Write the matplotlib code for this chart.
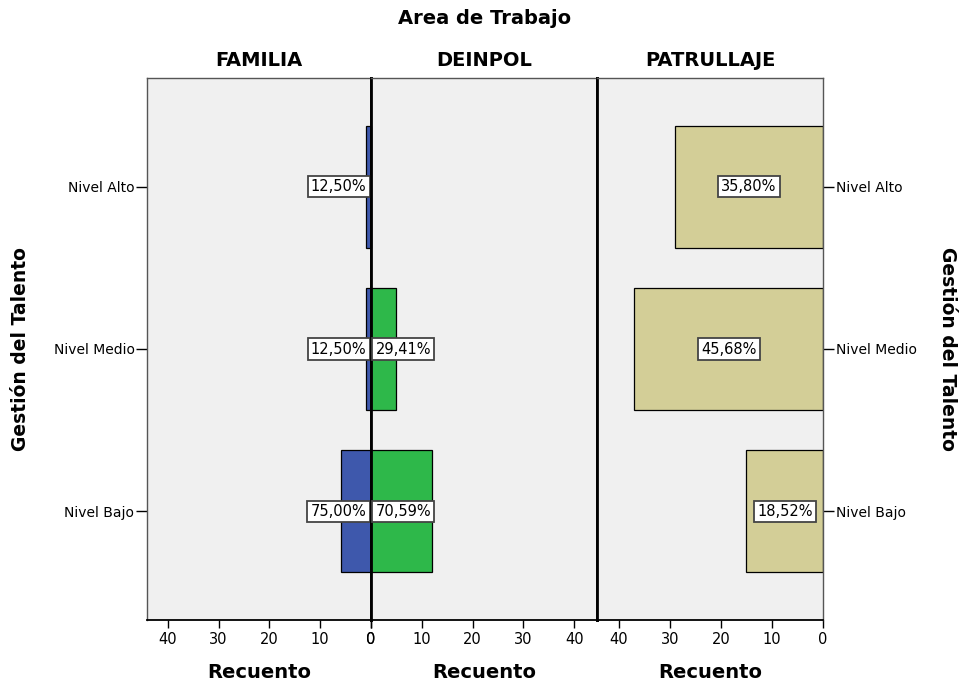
import matplotlib
matplotlib.use("Agg")
import matplotlib.pyplot as plt

# datos
niveles = ["Nivel Alto", "Nivel Medio", "Nivel Bajo"]
areas = ["FAMILIA", "DEINPOL", "PATRULLAJE"]
familia = [1, 1, 6]
deinpol = [0, 5, 12]
patrullaje = [29, 37, 15]
pct_familia = [12.50, 12.50, 75.00]
pct_deinpol = [0.0, 29.41, 70.59]
pct_patrullaje = [35.80, 45.68, 18.52]
ticks = [0, 10, 20, 30, 40]

colores = ["#3e58ac", "#2eb84a", "#d3ce97"]
fondo = "#f0f0f0"

plt.rcParams['font.family'] = ['DejaVu Sans']

fig = plt.figure(figsize=(9.59, 6.82), dpi=100)

W, H = 959, 682
bottom = 1 - 620 / H
height = (620 - 78) / H
bordes = [147, 371, 597, 823]
limites = [44.1, 44.5, 44.3]

datos = [familia, deinpol, patrullaje]
pcts = [pct_familia, pct_deinpol, pct_patrullaje]
ypos = list(range(len(niveles)))

axes = []
for i in range(3):
    x0 = bordes[i] / W
    w = (bordes[i + 1] - bordes[i]) / W
    ax = fig.add_axes([x0, bottom, w, height])
    ax.set_facecolor(fondo)
    ax.barh(ypos, datos[i], height=0.75, color=colores[i],
            edgecolor="black", linewidth=0.9, zorder=2)
    if i == 1:
        ax.set_xlim(0, limites[i])
    else:
        ax.set_xlim(limites[i], 0)
    ax.set_ylim(2.67, -0.67)
    ax.set_xticks(ticks)
    ax.set_xticklabels([str(t) for t in ticks], fontsize=10.5)
    ax.tick_params(axis="x", length=6, width=1, color="black", pad=3)

    # etiquetas de porcentaje
    for y, n, p in zip(ypos, datos[i], pcts[i]):
        if n == 0:
            continue
        txt = f"{p:.2f}%".replace(".", ",")
        caja = dict(boxstyle="square,pad=0.22", fc="white", ec="#444444", lw=1.3)
        if i == 0:
            ax.text(0.9, y, txt, ha="right", va="center", fontsize=10.5, bbox=caja, zorder=3)
        elif i == 1:
            ax.text(0.9, y, txt, ha="left", va="center", fontsize=10.5, bbox=caja, zorder=3)
        else:
            ax.text(n / 2, y, txt, ha="center", va="center", fontsize=10.5, bbox=caja, zorder=3)

    for s in ax.spines.values():
        s.set_color("#555555")
        s.set_linewidth(1)
    ax.spines["bottom"].set_color("black")
    ax.spines["bottom"].set_linewidth(1.3)

    fig.text((bordes[i] + bordes[i + 1]) / 2 / W, 1 - 60 / H, areas[i],
             ha="center", va="center", fontsize=14, fontweight="bold")
    fig.text((bordes[i] + bordes[i + 1]) / 2 / W, 1 - 673 / H, "Recuento",
             ha="center", va="center", fontsize=14, fontweight="bold")
    axes.append(ax)

# ejes y
axes[0].set_yticks(ypos)
axes[0].set_yticklabels(niveles, fontsize=10)
axes[0].tick_params(axis="y", length=8, width=1, color="black", pad=1)
axes[0].spines["right"].set_color("black")
axes[0].spines["right"].set_linewidth(2)

axes[1].set_yticks([])
axes[1].spines["left"].set_color("black")
axes[1].spines["left"].set_linewidth(2)
axes[1].spines["right"].set_color("black")
axes[1].spines["right"].set_linewidth(2)

axes[2].set_yticks(ypos)
axes[2].yaxis.tick_right()
axes[2].set_yticklabels(niveles, fontsize=10)
axes[2].tick_params(axis="y", length=8, width=1, color="black", pad=1)
axes[2].spines["left"].set_color("black")
axes[2].spines["left"].set_linewidth(2)

fig.text(485 / W, 1 - 18 / H, "Area de Trabajo", ha="center", va="center",
         fontsize=14, fontweight="bold")
fig.text(21 / W, 1 - 349 / H, "Gestión del Talento", ha="center", va="center",
         rotation=90, fontsize=13.5, fontweight="bold")
fig.text(947 / W, 1 - 349 / H, "Gestión del Talento", ha="center", va="center",
         rotation=270, fontsize=13.5, fontweight="bold")

plt.savefig("out.png", dpi=100)
